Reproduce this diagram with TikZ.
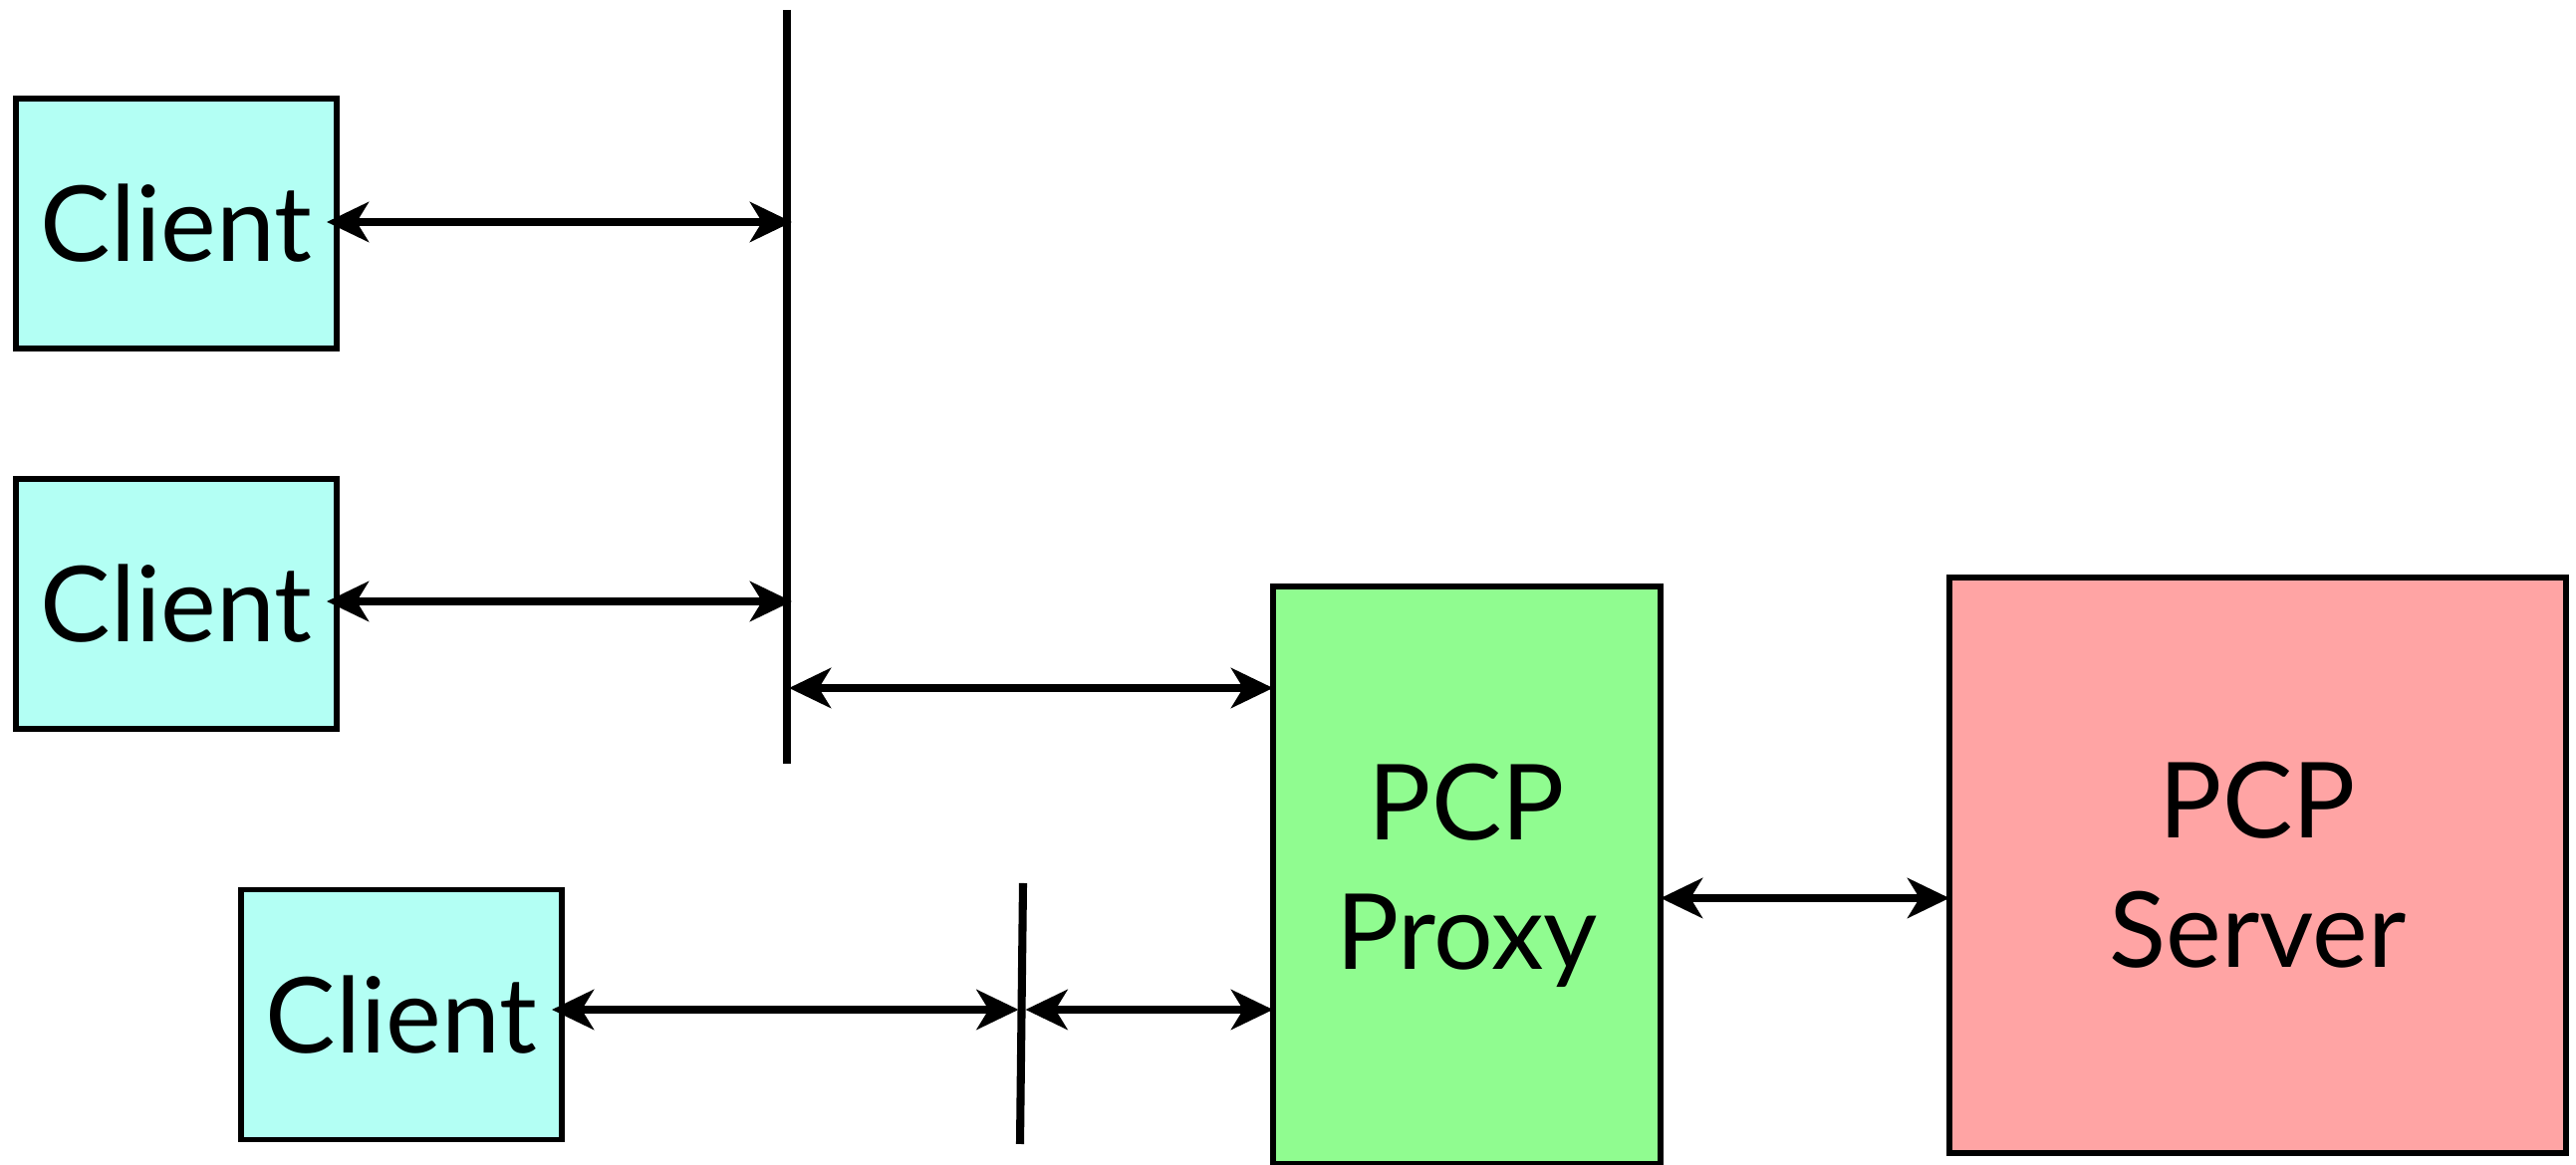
\documentclass[tikz,border=0pt]{standalone}
\usepackage{fontspec}
\setmainfont{Lato}
\usetikzlibrary{arrows.meta}
\definecolor{clientfill}{RGB}{179,255,244}
\definecolor{proxyfill}{RGB}{144,252,144}
\definecolor{serverfill}{RGB}{255,164,164}
\begin{document}
\begin{tikzpicture}[
  box/.style={draw=black, line width=1.45pt, rectangle, inner sep=0pt, outer sep=0pt, align=center,
    font=\fontsize{30}{37}\selectfont},
  clientbox/.style={box, fill=clientfill, minimum width=3.22cm, minimum height=2.51cm},
  busline/.style={line width=2.3pt},
  biarrow/.style={line width=2.3pt, {Stealth[length=0.42cm,width=0.40cm,inset=0.12cm]}-{Stealth[length=0.42cm,width=0.40cm,inset=0.12cm]}}
]
\useasboundingbox (0,0) rectangle (25.86,11.70);

% nodes
\node[clientbox] (c1) at (1.77,9.455) {Client};
\node[clientbox] (c2) at (1.77,5.635) {Client};
\node[clientbox] (c3) at (4.03,1.51) {Client};
\node[box, fill=proxyfill, minimum width=3.89cm, minimum height=5.80cm] (px) at (14.725,2.91) {PCP\\Proxy};
\node[box, fill=serverfill, minimum width=6.19cm, minimum height=5.78cm] (sv) at (22.665,3.01) {PCP\\Server};

% buses
\coordinate (b1top) at (7.90,11.60);
\coordinate (b1bot) at (7.90,4.03);
\coordinate (b2top) at (10.27,2.83);
\coordinate (b2bot) at (10.24,0.21);
\draw[busline] (b1top) -- (b1bot);
\draw[busline] (b2top) -- (b2bot);

% connection points
\coordinate (a1) at (7.95,9.47);
\coordinate (a2) at (7.95,5.66);
\coordinate (a3) at (7.92,4.79);
\coordinate (b2m) at (10.255,1.56);
\coordinate (ps) at (16.67,2.68);

% connectors
\draw[biarrow] ([xshift=-0.1cm]c1.east |- a1) -- (a1);
\draw[biarrow] ([xshift=-0.1cm]c2.east |- a2) -- (a2);
\draw[biarrow] (a3) -- (a3 -| px.west);
\draw[biarrow] ([xshift=-0.1cm]c3.east |- b2m) -- ([xshift=-0.03cm]b2m);
\draw[biarrow] ([xshift=0.04cm]b2m) -- (b2m -| px.west);
\draw[biarrow] (px.east |- ps) -- (ps -| sv.west);
\end{tikzpicture}
\end{document}
